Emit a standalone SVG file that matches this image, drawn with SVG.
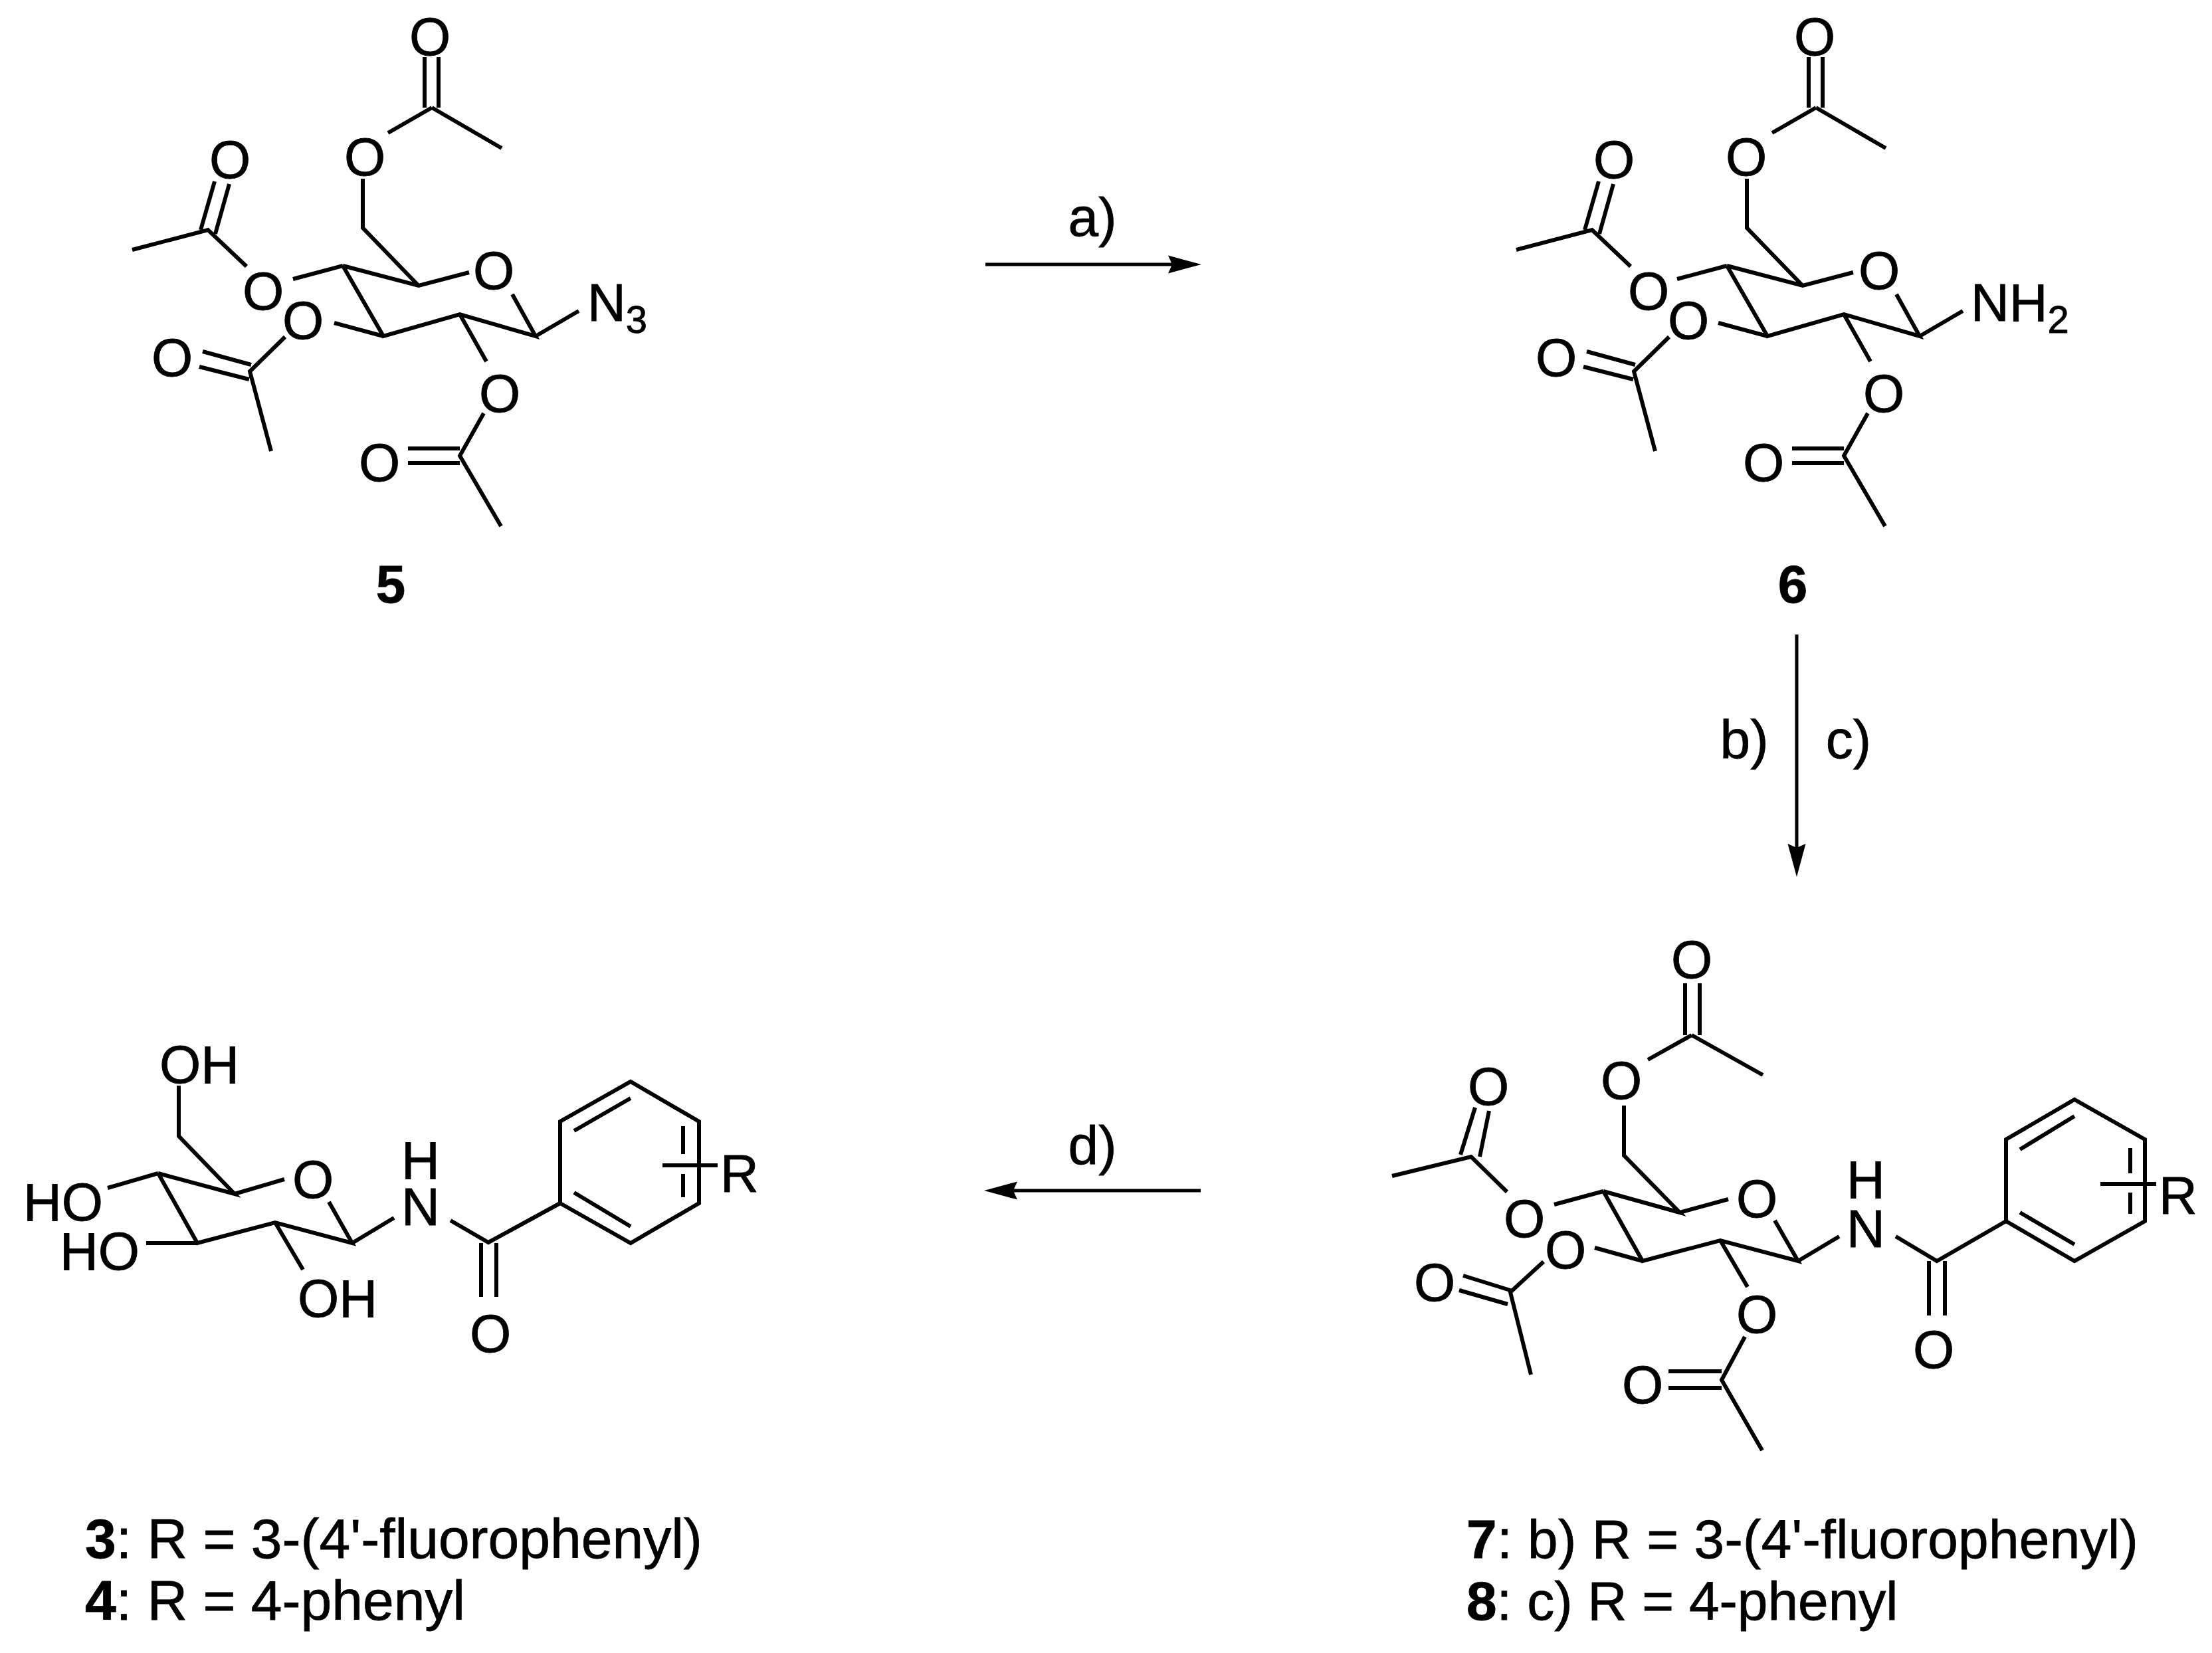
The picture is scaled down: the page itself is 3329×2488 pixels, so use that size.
<svg xmlns="http://www.w3.org/2000/svg" width="3329" height="2488" viewBox="0 0 3329 2488">
<defs>
<style>
text{font-family:"Liberation Sans",Arial,sans-serif;font-size:80px;fill:#000;stroke:#000;stroke-width:.8}
.m{text-anchor:middle}
.b{font-weight:bold}
.sub{font-size:58px}
.cap{font-size:84px}
.cap2{font-size:82px}
.bond{fill:none;stroke:#000;stroke-width:6}
.arrow{fill:none;stroke:#000;stroke-width:5;marker-end:url(#ah)}
</style>
<marker id="ah" markerUnits="userSpaceOnUse" markerWidth="54" markerHeight="30" refX="20" refY="15" orient="auto"><path d="M0 1.5L50 15L0 28.5L6 15Z" fill="#000"/></marker>
<path id="acetyl-sugar" class="bond" d="M639 86V162M660 86V162M650 162L755 223M650 162L584 200M546 269V343L630 430M516 400L630 430L706 410M771 443L806 506L692 473L577 506L516 400M806 506L871 468M516 400L441 420M371 401L313 346L199 376M302 346L323 273M324 352L345 277M577 506L503 486M429 507L376 559L408 679M305 529L378 549M300 552L375 571M692 473L732 544M728 622L692 686L754 792M614 675H692M614 697H692"/>
</defs>
<rect width="3329" height="2488" fill="#fff"/>
<g id="connectors">
<path class="arrow" d="M1483 398H1778"/>
<path class="arrow" d="M2704 955V1290"/>
<path class="arrow" d="M1807 1792H1511"/>
</g>
<g id="cond-a"><text class="m cap2" x="1644" y="355">a)</text></g>
<g id="cond-b"><text class="m cap2" x="2625" y="1141">b)</text></g>
<g id="cond-c"><text class="m cap2" x="2782" y="1141">c)</text></g>
<g id="cond-d"><text class="m cap2" x="1644" y="1752">d)</text></g>
<g id="compound-5">
<use href="#acetyl-sugar"/>
<text class="m" x="647" y="83">O</text><text class="m" x="549" y="264">O</text><text class="m" x="743" y="435">O</text>
<text x="884" y="483">N<tspan class="sub" dy="18">3</tspan></text>
<text class="m" x="396" y="466">O</text><text class="m" x="346" y="268">O</text><text class="m" x="456" y="510">O</text><text class="m" x="259" y="566">O</text><text class="m" x="752" y="620">O</text><text class="m" x="571" y="724">O</text>
<text class="m b" x="588" y="907">5</text>
</g>
<g id="compound-6">
<use href="#acetyl-sugar" x="2083"/>
<text class="m" x="2731" y="83">O</text><text class="m" x="2628" y="264">O</text><text class="m" x="2828" y="435">O</text>
<text x="2966" y="483">NH<tspan class="sub" dy="18">2</tspan></text>
<text class="m" x="2481" y="466">O</text><text class="m" x="2429" y="268">O</text><text class="m" x="2541" y="510">O</text><text class="m" x="2342" y="566">O</text><text class="m" x="2835" y="620">O</text><text class="m" x="2654" y="724">O</text>
<text class="m b" x="2698" y="907">6</text>
</g>
<g id="compound-3">
<path class="bond" transform="translate(-3 -2)" d="M272 1636V1712L356 1799L241 1768M356 1799L431 1777M498 1811L533 1873L417 1842L300 1873L241 1768M241 1768L165 1790M300 1873H223M417 1842L459 1913M533 1873L596 1835M681 1839L738 1872L846 1813M727 1873V1954M750 1873V1954M846 1813V1690L952 1630L1055 1690V1813L952 1873L846 1813M867 1704L952 1655M1031 1697V1739M1031 1769V1804M867 1797L952 1848M1000 1756H1083"/>
<text x="240" y="1630">OH</text><text x="35" y="1837">HO</text><text x="90" y="1911">HO</text><text x="448" y="1982">OH</text>
<text class="m" x="471" y="1803">O</text><text class="m" x="633" y="1844">N</text><text class="m" x="633" y="1774">H</text><text class="m" x="738" y="2035">O</text><text x="1084" y="1794">R</text>
</g>
<g id="compound-7">
<path class="bond" d="M2536 1480V1558M2558 1480V1558M2546 1558L2653 1618M2546 1558L2480 1595M2444 1664V1739L2528 1825L2413 1793M2528 1825L2601 1805M2671 1837L2706 1898L2589 1867L2472 1898L2413 1793M2413 1793L2339 1813M2268 1794L2214 1741L2095 1770M2198 1738L2220 1667M2227 1741L2241 1672M2472 1898L2400 1878M2323 1899L2273 1945L2304 2069M2202 1920L2276 1943M2196 1942L2269 1963M2589 1867L2630 1937M2626 2012L2591 2077L2652 2183M2511 2064H2591M2511 2089H2591M2706 1898L2768 1861M2853 1861L2915 1898L3019 1838M2903 1898V1980M2927 1898V1980M3019 1838V1715L3122 1655L3228 1715V1838L3122 1898L3019 1838M3040 1730L3122 1680M3206 1728V1766M3206 1795V1827M3040 1825L3122 1873M3161 1782H3245"/>
<text class="m" x="2546" y="1472">O</text><text class="m" x="2440" y="1654">O</text><text class="m" x="2644" y="1832">O</text><text class="m" x="2294" y="1862">O</text><text class="m" x="2240" y="1663">O</text><text class="m" x="2356" y="1909">O</text><text class="m" x="2159" y="1958">O</text><text class="m" x="2644" y="2006">O</text><text class="m" x="2472" y="2112">O</text><text class="m" x="2910" y="2059">O</text>
<text class="m" x="2808" y="1877">N</text><text class="m" x="2808" y="1803">H</text><text x="3249" y="1827">R</text>
</g>
<g id="label-3-4">
<text class="cap" x="128" y="2345"><tspan class="b">3</tspan>: R = 3-(4'-fluorophenyl)</text>
<text class="cap" x="128" y="2438"><tspan class="b">4</tspan>: R = 4-phenyl</text>
</g>
<g id="label-7-8">
<text class="cap2" x="2207" y="2345" style="letter-spacing:.3px"><tspan class="b">7</tspan>: b) R = 3-(4'-fluorophenyl)</text>
<text class="cap2" x="2207" y="2438"><tspan class="b">8</tspan>: c) R = 4-phenyl</text>
</g>
</svg>
